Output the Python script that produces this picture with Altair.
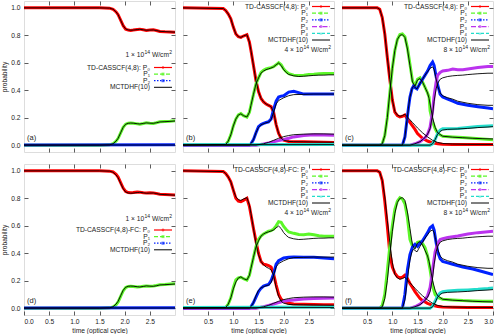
import altair as alt
import pandas as pd

FONT = "Liberation Sans"
FS = 6.7
FS_SUP = 5.0
TXT = "#222222"
SERIES = ["P0", "P1", "P2", "P3", "P4"]
COLORS = ["#ff0000", "#5cf728", "#0022ff", "#bb33ee", "#22ddcc"]
SUBS = ["\u2080", "\u2081", "\u2082", "\u2083", "\u2084"]
DASHES = [None, [4, 2], [1.5, 1.5], [5, 2, 1.5, 2], [3, 2]]
TICKS_Y = [0.0, 0.2, 0.4, 0.6, 0.8, 1.0]
XLAB = {0: [0.0, 0.5, 1.0, 1.5, 2.0, 2.5],
        1: [0.5, 1.0, 1.5, 2.0, 2.5],
        2: [0.5, 1.0, 1.5, 2.0, 2.5, 3.0]}
XTICK = [0.5, 1.0, 1.5, 2.0, 2.5]
INTENSITIES = ["1", "4", "8"]

# ---------------- 1e14 W/cm2 ----------------
TA = [0.0, 1.5, 1.7, 1.77, 1.83, 1.87, 1.92, 1.97, 2.02, 2.07, 2.12, 2.17, 2.25, 2.3,
      2.37, 2.43, 2.5, 2.57, 2.63, 2.7, 2.8, 2.9, 3.0]
A_P0 = [1, 1, 0.998, 0.99, 0.97, 0.95, 0.91, 0.87, 0.845, 0.838, 0.836, 0.838, 0.843,
        0.845, 0.84, 0.836, 0.838, 0.84, 0.835, 0.828, 0.826, 0.825, 0.822]
A_P1 = [0, 0, 0.002, 0.01, 0.03, 0.05, 0.09, 0.13, 0.153, 0.16, 0.162, 0.16, 0.155,
        0.153, 0.158, 0.163, 0.16, 0.158, 0.163, 0.17, 0.172, 0.174, 0.177]
D_P0 = [1, 1, 0.998, 0.992, 0.975, 0.955, 0.915, 0.875, 0.85, 0.842, 0.84, 0.842, 0.846,
        0.845, 0.84, 0.838, 0.84, 0.838, 0.835, 0.83, 0.828, 0.826, 0.824]
D_P1 = [0, 0, 0.002, 0.008, 0.025, 0.045, 0.085, 0.125, 0.15, 0.158, 0.16, 0.158, 0.154,
        0.155, 0.16, 0.162, 0.16, 0.162, 0.165, 0.17, 0.172, 0.175, 0.177]
M1_P0 = [1, 1, 0.998, 0.99, 0.97, 0.95, 0.91, 0.87, 0.846, 0.839, 0.837, 0.838, 0.842,
         0.844, 0.84, 0.837, 0.838, 0.839, 0.835, 0.829, 0.827, 0.825, 0.823]
M1_P1 = [0, 0, 0.002, 0.01, 0.03, 0.05, 0.09, 0.13, 0.152, 0.159, 0.161, 0.16, 0.156,
         0.154, 0.158, 0.162, 0.16, 0.159, 0.163, 0.169, 0.171, 0.173, 0.176]
T_FLAT = [0.0, 3.0]
A_P2 = [0.001, 0.002]
D_P2 = [0.001, 0.002]
M1_P2 = [0.001, 0.001]

# ---------------- 4e14 W/cm2 ----------------
T4_P0 = [0, 0.8, 0.85, 0.9, 0.95, 1.0, 1.05, 1.1, 1.15, 1.2, 1.27, 1.32, 1.35, 1.4, 1.45,
         1.5, 1.55, 1.6, 1.65, 1.7, 1.75, 1.8, 1.85, 1.9, 1.95, 2.0, 2.1, 2.2, 2.4, 2.6, 2.8, 3.0]
B_P0 = [1, 0.995, 0.98, 0.955, 0.92, 0.86, 0.81, 0.79, 0.785, 0.795, 0.805, 0.75, 0.69,
        0.58, 0.47, 0.39, 0.34, 0.315, 0.30, 0.29, 0.28, 0.24, 0.15, 0.085, 0.05, 0.036,
        0.026, 0.025, 0.024, 0.023, 0.021, 0.02]
E_P0 = [1, 0.995, 0.98, 0.955, 0.92, 0.86, 0.80, 0.78, 0.775, 0.785, 0.80, 0.74, 0.68,
        0.58, 0.487, 0.40, 0.34, 0.32, 0.316, 0.31, 0.30, 0.25, 0.17, 0.10, 0.065, 0.05,
        0.035, 0.03, 0.028, 0.026, 0.025, 0.024]
M4_P0 = [1, 0.995, 0.98, 0.955, 0.92, 0.86, 0.81, 0.79, 0.785, 0.795, 0.805, 0.75, 0.69,
         0.58, 0.47, 0.39, 0.34, 0.315, 0.30, 0.29, 0.28, 0.24, 0.15, 0.085, 0.05, 0.036,
         0.027, 0.025, 0.024, 0.023, 0.022, 0.021]
T4_P1 = [0, 0.85, 0.9, 0.95, 1.0, 1.05, 1.1, 1.15, 1.2, 1.27, 1.32, 1.35, 1.4, 1.45, 1.5,
         1.55, 1.6, 1.65, 1.7, 1.75, 1.8, 1.85, 1.9, 1.95, 2.0, 2.05, 2.1, 2.2, 2.3, 2.4,
         2.5, 2.6, 2.7, 2.8, 2.9, 3.0]
B_P1 = [0, 0.005, 0.03, 0.075, 0.14, 0.19, 0.22, 0.23, 0.215, 0.205, 0.24, 0.29, 0.37,
        0.445, 0.49, 0.53, 0.545, 0.555, 0.56, 0.565, 0.572, 0.585, 0.60, 0.585, 0.555,
        0.535, 0.52, 0.51, 0.507, 0.51, 0.514, 0.516, 0.52, 0.522, 0.522, 0.522]
E_P1 = [0, 0.005, 0.03, 0.075, 0.15, 0.205, 0.22, 0.225, 0.215, 0.205, 0.24, 0.29, 0.37,
        0.45, 0.50, 0.525, 0.54, 0.55, 0.56, 0.565, 0.575, 0.6, 0.63, 0.625, 0.595, 0.573,
        0.555, 0.545, 0.536, 0.535, 0.54, 0.535, 0.528, 0.524, 0.524, 0.524]
M4_P1 = [0, 0.005, 0.03, 0.075, 0.14, 0.19, 0.22, 0.228, 0.215, 0.205, 0.24, 0.29, 0.37,
         0.445, 0.49, 0.525, 0.54, 0.55, 0.556, 0.562, 0.57, 0.585, 0.598, 0.58, 0.55,
         0.53, 0.515, 0.505, 0.5, 0.502, 0.505, 0.508, 0.51, 0.51, 0.512, 0.512]
T4_P2 = [0, 1.32, 1.35, 1.4, 1.45, 1.5, 1.55, 1.6, 1.65, 1.7, 1.75, 1.8, 1.85, 1.9, 1.95,
         2.0, 2.1, 2.2, 2.4, 2.6, 2.8, 3.0]
B_P2 = [0, 0, 0.01, 0.04, 0.09, 0.135, 0.15, 0.158, 0.165, 0.17, 0.19, 0.26, 0.32, 0.35,
        0.357, 0.36, 0.386, 0.393, 0.372, 0.372, 0.373, 0.373]
E_P2 = [0, 0, 0.01, 0.04, 0.08, 0.12, 0.145, 0.16, 0.167, 0.172, 0.2, 0.25, 0.32, 0.345,
        0.355, 0.365, 0.37, 0.372, 0.37, 0.37, 0.365, 0.36]
M4_P2 = [0, 0, 0.01, 0.04, 0.09, 0.13, 0.148, 0.156, 0.163, 0.168, 0.185, 0.24, 0.3,
         0.325, 0.335, 0.345, 0.36, 0.368, 0.37, 0.372, 0.372, 0.372]
T4_P3 = [0, 1.45, 1.6, 1.7, 1.8, 1.9, 2.0, 2.1, 2.2, 2.4, 2.6, 2.8, 3.0]
B_P3 = [0, 0, 0.008, 0.015, 0.025, 0.033, 0.041, 0.05, 0.06, 0.07, 0.075, 0.074, 0.072]
E_P3 = [0, 0, 0.01, 0.02, 0.03, 0.04, 0.05, 0.055, 0.06, 0.067, 0.07, 0.072, 0.073]
M4_P3 = [0, 0, 0.01, 0.02, 0.035, 0.05, 0.062, 0.07, 0.076, 0.08, 0.082, 0.082, 0.08]
B_P4 = [0.003, 0.004]
E_P4 = [0.005, 0.008]
M4_P4 = [0.003, 0.004]

# ---------------- 8e14 W/cm2 ----------------
T8_P0 = [0, 0.7, 0.75, 0.8, 0.85, 0.9, 0.95, 1.0, 1.05, 1.1, 1.15, 1.2, 1.25, 1.3, 1.35,
         1.4, 1.45, 1.5, 1.6, 1.7, 1.8, 1.9, 2.0, 2.2, 2.5, 3.0]
C_P0 = [1, 1, 0.99, 0.93, 0.81, 0.64, 0.48, 0.33, 0.24, 0.215, 0.205, 0.21, 0.22, 0.19,
        0.165, 0.14, 0.115, 0.085, 0.05, 0.03, 0.017, 0.01, 0.007, 0.005, 0.005, 0.004]
M8_P0 = [1, 1, 0.99, 0.93, 0.81, 0.64, 0.48, 0.33, 0.245, 0.22, 0.21, 0.215, 0.225, 0.205,
         0.185, 0.165, 0.145, 0.125, 0.09, 0.06, 0.035, 0.02, 0.012, 0.008, 0.006, 0.005]
TF_P0 = [0, 0.7, 0.75, 0.8, 0.85, 0.9, 0.95, 1.0, 1.05, 1.1, 1.15, 1.2, 1.25, 1.3, 1.35,
         1.4, 1.45, 1.5, 1.55, 1.6, 1.7, 1.8, 1.9, 2.0, 2.2, 2.5, 3.0]
F_P0 = [1, 1, 0.99, 0.93, 0.78, 0.60, 0.40, 0.30, 0.255, 0.23, 0.22, 0.225, 0.24, 0.215,
        0.18, 0.15, 0.12, 0.095, 0.07, 0.055, 0.035, 0.02, 0.012, 0.008, 0.006, 0.005, 0.004]
T8_P1 = [0, 0.75, 0.8, 0.85, 0.9, 0.95, 1.0, 1.05, 1.1, 1.15, 1.2, 1.25, 1.3, 1.35, 1.4,
         1.45, 1.5, 1.55, 1.6, 1.65, 1.7, 1.73, 1.75, 1.8, 1.85, 1.9, 2.0, 2.2, 2.4, 2.6,
         2.8, 3.0]
C_P1 = [0, 0, 0.01, 0.07, 0.2, 0.38, 0.56, 0.69, 0.77, 0.805, 0.81, 0.79, 0.71, 0.59, 0.47,
        0.43, 0.48, 0.49, 0.46, 0.42, 0.38, 0.35, 0.25, 0.17, 0.12, 0.085, 0.065, 0.06,
        0.056, 0.05, 0.045, 0.04]
M8_P1 = [0, 0, 0.01, 0.07, 0.2, 0.38, 0.56, 0.69, 0.77, 0.8, 0.805, 0.785, 0.70, 0.58,
         0.46, 0.43, 0.475, 0.485, 0.46, 0.42, 0.38, 0.34, 0.3, 0.2, 0.13, 0.09, 0.065,
         0.058, 0.054, 0.05, 0.047, 0.045]
TF_P1 = [0, 0.75, 0.8, 0.85, 0.9, 0.95, 1.0, 1.05, 1.1, 1.15, 1.2, 1.25, 1.3, 1.35, 1.4,
         1.45, 1.5, 1.55, 1.6, 1.65, 1.7, 1.75, 1.8, 1.85, 1.9, 2.0, 2.2, 2.4, 2.6, 2.8, 3.0]
F_P1 = [0, 0, 0.02, 0.1, 0.27, 0.45, 0.60, 0.72, 0.78, 0.805, 0.795, 0.76, 0.66, 0.50,
        0.45, 0.45, 0.48, 0.485, 0.47, 0.44, 0.38, 0.28, 0.16, 0.1, 0.078, 0.065, 0.06,
        0.055, 0.052, 0.05, 0.05]
T8_P2 = [0, 1.2, 1.25, 1.29, 1.32, 1.35, 1.39, 1.42, 1.45, 1.49, 1.52, 1.55, 1.6, 1.65,
         1.7, 1.75, 1.8, 1.83, 1.86, 1.9, 1.95, 2.0, 2.1, 2.2, 2.3, 2.5, 2.7, 2.9, 3.0]
C_P2 = [0, 0, 0.06, 0.18, 0.27, 0.35, 0.41, 0.43, 0.42, 0.41, 0.43, 0.45, 0.48, 0.51,
        0.54, 0.58, 0.605, 0.58, 0.52, 0.44, 0.37, 0.35, 0.335, 0.32, 0.305, 0.29, 0.28,
        0.27, 0.265]
M8_P2 = [0, 0, 0.06, 0.18, 0.27, 0.35, 0.41, 0.43, 0.42, 0.41, 0.43, 0.45, 0.48, 0.51,
         0.535, 0.56, 0.57, 0.55, 0.5, 0.43, 0.38, 0.36, 0.345, 0.335, 0.32, 0.305, 0.295,
         0.29, 0.29]
TF_P2 = [0, 1.2, 1.25, 1.3, 1.35, 1.4, 1.45, 1.5, 1.55, 1.6, 1.65, 1.7, 1.75, 1.8, 1.83,
         1.86, 1.9, 1.95, 2.0, 2.1, 2.2, 2.4, 2.6, 2.8, 3.0]
F_P2 = [0, 0, 0.1, 0.28, 0.39, 0.445, 0.465, 0.45, 0.47, 0.49, 0.52, 0.55, 0.585, 0.60,
        0.57, 0.50, 0.41, 0.36, 0.34, 0.33, 0.32, 0.3, 0.285, 0.265, 0.245]
T8_P3 = [0, 1.35, 1.45, 1.55, 1.65, 1.7, 1.75, 1.8, 1.83, 1.87, 1.9, 1.95, 2.0, 2.1, 2.2,
         2.3, 2.4, 2.5, 2.6, 2.7, 2.8, 2.9, 3.0]
C_P3 = [0, 0, 0.01, 0.025, 0.055, 0.08, 0.13, 0.25, 0.36, 0.46, 0.51, 0.53, 0.54, 0.545,
        0.555, 0.55, 0.55, 0.555, 0.56, 0.565, 0.57, 0.572, 0.572]
M8_P3 = [0, 0, 0.01, 0.025, 0.055, 0.08, 0.12, 0.22, 0.32, 0.41, 0.45, 0.48, 0.49, 0.5,
         0.505, 0.508, 0.51, 0.514, 0.517, 0.52, 0.522, 0.524, 0.524]
TF_P3 = [0, 1.35, 1.45, 1.55, 1.65, 1.7, 1.75, 1.8, 1.85, 1.9, 1.95, 2.0, 2.1, 2.2, 2.3,
         2.5, 2.7, 2.9, 3.0]
F_P3 = [0, 0, 0.01, 0.03, 0.063, 0.09, 0.15, 0.28, 0.41, 0.47, 0.50, 0.505, 0.515, 0.52,
        0.525, 0.54, 0.55, 0.557, 0.56]
T8_P4 = [0, 1.75, 1.8, 1.85, 1.9, 1.95, 2.0, 2.1, 2.3, 2.5, 2.7, 2.9, 3.0]
C_P4 = [0, 0, 0.01, 0.04, 0.085, 0.11, 0.12, 0.12, 0.122, 0.128, 0.135, 0.14, 0.142]
M8_P4 = [0, 0, 0.01, 0.04, 0.08, 0.1, 0.11, 0.115, 0.118, 0.122, 0.128, 0.132, 0.135]
F_P4 = [0, 0, 0.015, 0.05, 0.09, 0.11, 0.12, 0.125, 0.13, 0.133, 0.137, 0.143, 0.147]


def long_df(series_list):
    rows = []
    for name, ts, ps in series_list:
        for t, p in zip(ts, ps):
            rows.append({"t": t, "p": p, "s": name})
    return pd.DataFrame(rows)


DUMMY = pd.DataFrame({"k": [0]})
XS = alt.Scale(domain=[0, 3], nice=False, zero=False)
YS = alt.Scale(domain=[-0.05, 1.05], nice=False, zero=False)
CS = alt.Scale(domain=SERIES, range=COLORS)
W, H = 151, 151

# approximate Helvetica/Arial advance widths (em) for composing the intensity label
CHW = {" ": 0.278, "\u00d7": 0.584, "W": 0.944, "/": 0.278, "c": 0.5, "m": 0.833}


def tw(s, size):
    return sum(CHW.get(ch, 0.556) for ch in s) * size


def txt(s, x, y, align="right", size=FS):
    return alt.Chart(DUMMY).mark_text(
        text=s, align=align, baseline="middle", font=FONT, fontSize=size, color=TXT
    ).encode(x=alt.value(x), y=alt.value(y))


def intensity(n, xr, y):
    # (text, font size, vertical shift, gap before)
    pieces = [("%s \u00d7 10" % n, FS, 0, 0.0), ("14", FS_SUP, -2.6, 0.2),
              ("W/cm", FS, 0, 0.278 * FS), ("2", FS_SUP, -2.6, 0.2)]
    total = sum(tw(p, sz) + g for p, sz, _, g in pieces)
    x = xr - total
    out = []
    for p, sz, dy, g in pieces:
        x += g
        out.append(txt(p, x, y + dy, align="left", size=sz))
        x += tw(p, sz)
    return out


def seg(x1, x2, y, color, dash, width):
    kw = dict(color=color, strokeWidth=width)
    if dash is not None:
        kw["strokeDash"] = dash
    return alt.Chart(DUMMY).mark_rule(**kw).encode(
        x=alt.value(x1), x2=alt.value(x2), y=alt.value(y))


def panel(td, mc, prefix, nser, key_y0, key_dy, inten, inten_y, label, col, row):
    bottom = row == 1
    left = col == 0
    common = dict(domain=False, grid=False, tickSize=4, offset=-4, tickColor="#333333",
                  tickWidth=0.8, labelFont=FONT, labelFontSize=FS, labelColor=TXT,
                  titleFont=FONT, titleFontSize=FS, titleColor=TXT,
                  titleFontWeight="normal", format=".1f")
    if bottom:
        xaxis = alt.Axis(orient="bottom", values=XLAB[col], labels=True,
                         title="time (optical cycle)", labelPadding=3,
                         titlePadding=3, minExtent=13, maxExtent=13, **common)
    else:
        xaxis = alt.Axis(orient="bottom", values=XTICK, labels=False, title=None,
                         minExtent=0, maxExtent=0, **common)
    if left:
        yaxis = alt.Axis(orient="left", values=TICKS_Y, labels=True, title="probability",
                         labelPadding=4, titlePadding=4, minExtent=17, maxExtent=17,
                         **common)
    else:
        yaxis = alt.Axis(orient="left", values=TICKS_Y, labels=False, title=None,
                         minExtent=0, maxExtent=0, **common)
    mx = alt.Axis(orient="top", values=XTICK, labels=False, title=None, minExtent=0,
                  maxExtent=0, **common)
    my = alt.Axis(orient="right", values=TICKS_Y, labels=False, title=None, minExtent=0,
                  maxExtent=0, **common)

    tdf = long_df(td)
    mdf = long_df(mc)
    lines = alt.Chart(tdf).mark_line(strokeWidth=3.0, clip=True).encode(
        x=alt.X("t:Q", scale=XS, axis=xaxis),
        y=alt.Y("p:Q", scale=YS, axis=yaxis),
        color=alt.Color("s:N", scale=CS, legend=None),
    )
    black = alt.Chart(mdf).mark_line(strokeWidth=0.9, color="black", clip=True).encode(
        x=alt.X("t:Q", scale=XS, axis=None),
        y=alt.Y("p:Q", scale=YS, axis=None),
        detail="s:N",
    )
    mirror = alt.Chart(tdf).mark_line(opacity=0).encode(
        x=alt.X("t:Q", scale=XS, axis=mx),
        y=alt.Y("p:Q", scale=YS, axis=my),
        detail="s:N",
    )
    layers = [lines, black, mirror]
    tx = 125 if nser == 5 else 126
    l1, l2 = tx + 4, tx + 22
    shapes = ["cross", "square", "square", "circle", "triangle-up"]
    for i in range(nser):
        y = key_y0 + i * key_dy
        s = ("%sP%s" % (prefix, SUBS[i])) if i == 0 else "P%s" % SUBS[i]
        layers.append(txt(s, tx, y))
        layers.append(seg(l1, l2, y, COLORS[i], DASHES[i], 1.2))
        layers.append(alt.Chart(DUMMY).mark_point(
            shape=shapes[i], filled=True, size=9, color=COLORS[i]).encode(
            x=alt.value((l1 + l2) / 2), y=alt.value(y)))
    ym = key_y0 + nser * key_dy
    layers.append(txt("MCTDHF(10)", tx, ym))
    layers.append(seg(l1, l2, ym, "black", None, 1.0))
    layers.extend(intensity(inten, 148, inten_y))
    layers.append(txt(label, 3, 137, align="left", size=7.5))
    return alt.layer(*layers).resolve_axis(x="independent", y="independent").properties(
        width=W, height=H)


def s(name, t, p):
    return (name, t, p)


PRE = "TD-CASSCF(4,8): "
PREFC = "TD-CASSCF(4,8)-FC: "

M1 = [s("P0", TA, M1_P0), s("P1", TA, M1_P1), s("P2", T_FLAT, M1_P2)]
M4 = [s("P0", T4_P0, M4_P0), s("P1", T4_P1, M4_P1), s("P2", T4_P2, M4_P2),
      s("P3", T4_P3, M4_P3), s("P4", T_FLAT, M4_P4)]
M8 = [s("P0", T8_P0, M8_P0), s("P1", T8_P1, M8_P1), s("P2", T8_P2, M8_P2),
      s("P3", T8_P3, M8_P3), s("P4", T8_P4, M8_P4)]

pa = panel([s("P0", TA, A_P0), s("P1", TA, A_P1), s("P2", T_FLAT, A_P2)], M1,
           PRE, 3, 66.5, 6.6, INTENSITIES[0], 53.5, "(a)", 0, 0)
pb = panel([s("P0", T4_P0, B_P0), s("P1", T4_P1, B_P1), s("P2", T4_P2, B_P2),
            s("P3", T4_P3, B_P3), s("P4", T_FLAT, B_P4)], M4,
           PRE, 5, 5.5, 6.7, INTENSITIES[1], 48.5, "(b)", 1, 0)
pc = panel([s("P0", T8_P0, C_P0), s("P1", T8_P1, C_P1), s("P2", T8_P2, C_P2),
            s("P3", T8_P3, C_P3), s("P4", T8_P4, C_P4)], M8,
           PRE, 5, 5.5, 6.7, INTENSITIES[2], 48.5, "(c)", 2, 0)
pd_ = panel([s("P0", TA, D_P0), s("P1", TA, D_P1), s("P2", T_FLAT, D_P2)], M1,
            PREFC, 3, 66.0, 6.6, INTENSITIES[0], 55.0, "(d)", 0, 1)
pe = panel([s("P0", T4_P0, E_P0), s("P1", T4_P1, E_P1), s("P2", T4_P2, E_P2),
            s("P3", T4_P3, E_P3), s("P4", T_FLAT, E_P4)], M4,
           PREFC, 5, 5.5, 6.7, INTENSITIES[1], 48.5, "(e)", 1, 1)
pf = panel([s("P0", TF_P0, F_P0), s("P1", TF_P1, F_P1), s("P2", TF_P2, F_P2),
            s("P3", TF_P3, F_P3), s("P4", T8_P4, F_P4)], M8,
           PREFC, 5, 5.5, 6.7, INTENSITIES[2], 48.5, "(f)", 2, 1)

chart = alt.concat(pa, pb, pc, pd_, pe, pf, columns=3,
                   spacing={"row": 12, "column": 8}, bounds="flush").properties(
    padding={"left": 0, "top": 0, "right": 0, "bottom": 0}
).configure_view(stroke="#333333", strokeWidth=0.9).configure(background="white")

chart.save("out.html", embed_options={"renderer": "svg", "actions": False})
